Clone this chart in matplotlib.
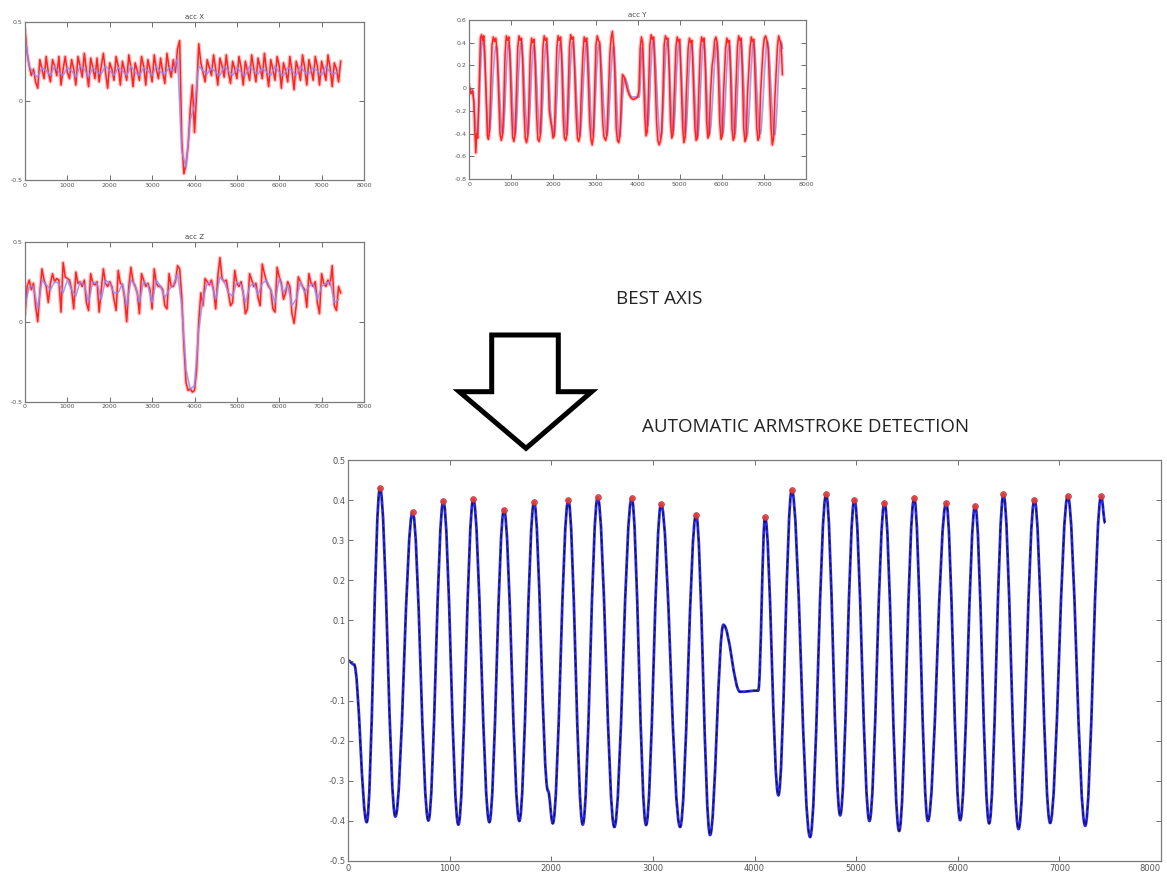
import numpy as np
import matplotlib
matplotlib.use("Agg")
import matplotlib.pyplot as plt
from matplotlib.path import Path
from matplotlib.patches import PathPatch, Polygon

# ---------------------------------------------------------------------------
# Filtered best-axis signal (acc Y): detected stroke peaks, troughs and
# a few extra knots (start, shoulder, pause between strokes, end)
# ---------------------------------------------------------------------------
peak_x = [315, 636, 938, 1233, 1535, 1831, 2168, 2457, 2792, 3081, 3425,
          4104, 4367, 4705, 4983, 5279, 5571, 5886, 6171, 6450, 6755, 7083, 7411]
peak_y = [0.430, 0.370, 0.397, 0.402, 0.376, 0.395, 0.400, 0.407, 0.405, 0.390, 0.364,
          0.357, 0.425, 0.414, 0.401, 0.393, 0.405, 0.393, 0.386, 0.414, 0.401, 0.410, 0.410]

trough_x = [184, 466, 791, 1086, 1391, 1686, 2015, 2310, 2621, 2933, 3268, 3563,
            4235, 4547, 4843, 5131, 5423, 5706, 6024, 6309, 6598, 6909, 7254]
trough_y = [-0.403, -0.389, -0.399, -0.409, -0.403, -0.400, -0.406, -0.409, -0.415, -0.410,
            -0.415, -0.435, -0.336, -0.440, -0.386, -0.400, -0.425, -0.400, -0.398, -0.406,
            -0.420, -0.405, -0.412]

knot_x = [0, 60, 1968, 3694, 3858, 4037, 7451]
knot_y = [0.000, -0.010, -0.325, 0.089, -0.078, -0.075, 0.343]

# ---------------------------------------------------------------------------
# Raw accelerometer traces (sampled every 50 samples) and filtered traces
# (sampled every 100 samples) for acc X and acc Z
# ---------------------------------------------------------------------------
acc_x_raw = [
    0.45, 0.30, 0.22, 0.16, 0.20, 0.12, 0.08, 0.26, 0.20, 0.14,
    0.28, 0.18, 0.12, 0.26, 0.22, 0.16, 0.28, 0.10, 0.20, 0.28,
    0.18, 0.14, 0.26, 0.20, 0.10, 0.28, 0.22, 0.15, 0.30, 0.19,
    0.09, 0.27, 0.21, 0.14, 0.27, 0.12, 0.22, 0.30, 0.18, 0.08,
    0.24, 0.20, 0.13, 0.28, 0.22, 0.10, 0.25, 0.19, 0.13, 0.29,
    0.21, 0.09, 0.24, 0.19, 0.13, 0.28, 0.22, 0.10, 0.26, 0.20,
    0.12, 0.29, 0.20, 0.14, 0.27, 0.18, 0.11, 0.30, 0.21, 0.15,
    0.26, 0.18, 0.33, 0.38, -0.25, -0.46, -0.40, -0.28, -0.05, 0.10,
    -0.20, 0.05, 0.36, 0.24, 0.18, 0.12, 0.26, 0.21, 0.16, 0.29,
    0.20, 0.10, 0.27, 0.22, 0.15, 0.29, 0.18, 0.11, 0.25, 0.20,
    0.14, 0.28, 0.21, 0.10, 0.25, 0.19, 0.13, 0.29, 0.20, 0.12,
    0.27, 0.21, 0.14, 0.30, 0.19, 0.09, 0.26, 0.20, 0.13, 0.28,
    0.22, 0.08, 0.24, 0.19, 0.12, 0.28, 0.19, 0.07, 0.25, 0.20,
    0.13, 0.29, 0.21, 0.10, 0.26, 0.20, 0.13, 0.28, 0.22, 0.10,
    0.25, 0.19, 0.13, 0.29, 0.21, 0.09, 0.24, 0.20, 0.12, 0.25,
]
acc_x_filt = [
    0.40, 0.22, 0.17, 0.15, 0.21, 0.19, 0.16, 0.22, 0.18, 0.16,
    0.21, 0.19, 0.15, 0.22, 0.20, 0.15, 0.21, 0.18, 0.17, 0.22,
    0.19, 0.16, 0.21, 0.19, 0.16, 0.22, 0.18, 0.16, 0.21, 0.19,
    0.16, 0.22, 0.18, 0.17, 0.21, 0.19, 0.27, -0.32, -0.42, -0.12,
    -0.03, 0.22, 0.19, 0.17, 0.21, 0.18, 0.16, 0.22, 0.19, 0.16,
    0.21, 0.18, 0.16, 0.22, 0.19, 0.17, 0.21, 0.18, 0.16, 0.22,
    0.18, 0.16, 0.21, 0.19, 0.16, 0.22, 0.18, 0.17, 0.21, 0.19,
    0.16, 0.22, 0.18, 0.17, 0.19,
]

acc_z_raw = [
    0.05, 0.22, 0.26, 0.20, 0.24, 0.10, 0.00, 0.18, 0.33, 0.26,
    0.22, 0.12, 0.24, 0.30, 0.25, 0.27, 0.26, 0.06, 0.37, 0.28,
    0.27, 0.26, 0.20, 0.08, 0.31, 0.24, 0.25, 0.22, 0.26, 0.12,
    0.07, 0.30, 0.24, 0.23, 0.25, 0.06, 0.20, 0.33, 0.24, 0.22,
    0.25, 0.22, 0.14, 0.07, 0.32, 0.24, 0.23, 0.15, 0.00, 0.22,
    0.34, 0.25, 0.22, 0.18, 0.05, 0.30, 0.26, 0.22, 0.24, 0.20,
    0.08, 0.33, 0.24, 0.22, 0.22, 0.20, 0.10, 0.08, 0.30, 0.22,
    0.22, 0.25, 0.35, 0.33, 0.15, -0.15, -0.38, -0.43, -0.42, -0.44,
    -0.43, -0.30, 0.00, 0.18, 0.10, 0.27, 0.25, 0.23, 0.26, 0.20,
    0.08, 0.28, 0.40, 0.27, 0.25, 0.26, 0.18, 0.10, 0.12, 0.32,
    0.24, 0.22, 0.25, 0.18, 0.05, 0.08, 0.30, 0.26, 0.22, 0.24,
    0.15, 0.10, 0.36, 0.30, 0.25, 0.22, 0.20, 0.08, 0.06, 0.34,
    0.28, 0.24, 0.14, 0.18, 0.25, 0.22, 0.05, -0.01, 0.10, 0.28,
    0.25, 0.22, 0.20, 0.09, 0.30, 0.24, 0.22, 0.25, 0.12, 0.05,
    0.30, 0.24, 0.22, 0.26, 0.23, 0.35, 0.10, 0.07, 0.22, 0.18,
]
acc_z_filt = [
    0.10, 0.22, 0.22, 0.08, 0.26, 0.23, 0.20, 0.25, 0.24, 0.18,
    0.26, 0.20, 0.16, 0.25, 0.23, 0.12, 0.25, 0.24, 0.14, 0.26,
    0.24, 0.18, 0.18, 0.24, 0.10, 0.26, 0.23, 0.12, 0.25, 0.23,
    0.12, 0.26, 0.22, 0.15, 0.20, 0.23, 0.30, 0.10, -0.30, -0.42,
    -0.40, -0.05, 0.14, 0.24, 0.24, 0.14, 0.28, 0.25, 0.18, 0.16,
    0.25, 0.23, 0.12, 0.22, 0.24, 0.17, 0.24, 0.26, 0.20, 0.12,
    0.27, 0.18, 0.23, 0.10, 0.14, 0.25, 0.18, 0.22, 0.24, 0.14,
    0.22, 0.24, 0.25, 0.12, 0.14,
]

# Raw acc Y trace (irregular sample positions)
acc_y_raw_x = [
    0, 40, 80, 110, 130, 155, 175, 200,
    240, 265, 290, 320, 345, 370,
    410, 430, 455, 480, 505,
    540, 570, 600, 630, 660,
    700, 730, 760, 790, 815,
    850, 880, 910, 940, 965,
    1000, 1030, 1060, 1090, 1115,
    1150, 1180, 1210, 1240, 1265,
    1300, 1330, 1360, 1390, 1415,
    1450, 1480, 1510, 1540, 1565,
    1600, 1630, 1660, 1690, 1715,
    1750, 1780, 1810, 1840, 1870,
    1900, 1930, 1960, 1990, 2020, 2045,
    2080, 2110, 2140, 2170, 2200,
    2230, 2260, 2290, 2320, 2345,
    2380, 2410, 2440, 2470, 2500,
    2540, 2570, 2600, 2630, 2655,
    2700, 2730, 2760, 2790, 2820,
    2860, 2890, 2920, 2950, 2975,
    3010, 3040, 3070, 3100, 3130,
    3170, 3200, 3240, 3270, 3300,
    3340, 3370, 3400, 3430, 3460,
    3490, 3520, 3550, 3580, 3610,
    3640, 3680, 3720, 3760, 3800, 3850, 3900, 3950, 4000, 4030,
    4060, 4090, 4120, 4140,
    4170, 4200, 4230, 4255,
    4290, 4320, 4350, 4380, 4410,
    4450, 4480, 4510, 4540, 4570, 4600,
    4630, 4660, 4690, 4720, 4750,
    4780, 4810, 4840, 4865,
    4910, 4940, 4970, 5000, 5030,
    5070, 5100, 5130, 5155,
    5200, 5230, 5260, 5290, 5320,
    5360, 5390, 5420, 5450,
    5490, 5520, 5550, 5580, 5610,
    5640, 5670, 5700, 5730,
    5770, 5800, 5830, 5860, 5890, 5920,
    5950, 5980, 6010, 6040,
    6090, 6120, 6150, 6180, 6210,
    6240, 6270, 6300, 6330,
    6370, 6400, 6430, 6460, 6490,
    6520, 6550, 6580, 6610,
    6670, 6700, 6730, 6760, 6790,
    6830, 6860, 6890, 6920,
    6980, 7010, 7040, 7070, 7100, 7130,
    7170, 7200, 7230, 7260,
    7320, 7350, 7380, 7410, 7440,
]
acc_y_raw_y = [
    0.02, -0.05, -0.02, -0.12, -0.38, -0.57, -0.40, -0.44,
    0.10, 0.44, 0.47, 0.42, 0.46, 0.30,
    -0.20, -0.42, -0.45, -0.38, -0.05,
    0.38, 0.45, 0.41, 0.44, 0.33,
    -0.10, -0.40, -0.46, -0.41, -0.20,
    0.30, 0.46, 0.42, 0.45, 0.28,
    -0.15, -0.43, -0.47, -0.40, -0.10,
    0.35, 0.46, 0.42, 0.44, 0.25,
    -0.20, -0.44, -0.48, -0.42, -0.15,
    0.32, 0.44, 0.40, 0.43, 0.20,
    -0.25, -0.45, -0.47, -0.41, -0.10,
    0.36, 0.46, 0.42, 0.44, 0.15,
    -0.20, -0.28, -0.35, -0.44, -0.42, -0.10,
    0.35, 0.46, 0.42, 0.45, 0.20,
    -0.25, -0.44, -0.46, -0.41, -0.10,
    0.36, 0.47, 0.43, 0.45, 0.18,
    -0.25, -0.44, -0.47, -0.42, -0.10,
    0.30, 0.45, 0.41, 0.44, 0.15,
    -0.30, -0.45, -0.50, -0.42, -0.05,
    0.38, 0.46, 0.42, 0.40, 0.10,
    -0.30, -0.43, -0.46, -0.41, -0.10,
    0.30, 0.44, 0.50, 0.38, 0.10,
    -0.35, -0.46, -0.48, -0.42, -0.10,
    0.12, 0.10, 0.04, -0.02, -0.06, -0.09, -0.10, -0.09, -0.08, -0.02,
    0.35, 0.45, 0.40, 0.10,
    -0.25, -0.42, -0.38, -0.05,
    0.38, 0.47, 0.43, 0.45, 0.15,
    -0.30, -0.46, -0.50, -0.47, -0.40, -0.05,
    0.38, 0.46, 0.43, 0.44, 0.15,
    -0.30, -0.44, -0.41, -0.10,
    0.36, 0.45, 0.41, 0.43, 0.10,
    -0.35, -0.48, -0.43, -0.05,
    0.35, 0.44, 0.40, 0.42, 0.10,
    -0.35, -0.46, -0.44, -0.05,
    0.35, 0.45, 0.41, 0.44, 0.15,
    -0.30, -0.44, -0.41, -0.05,
    0.20, 0.28, 0.42, 0.45, 0.40, 0.10,
    -0.30, -0.45, -0.42, -0.05,
    0.35, 0.44, 0.40, 0.42, 0.10,
    -0.35, -0.46, -0.43, -0.05,
    0.36, 0.46, 0.42, 0.44, 0.10,
    -0.35, -0.47, -0.44, -0.05,
    0.35, 0.45, 0.41, 0.43, 0.10,
    -0.35, -0.46, -0.43, -0.05,
    0.34, 0.44, 0.46, 0.42, 0.35, 0.05,
    -0.35, -0.50, -0.44, -0.10,
    0.36, 0.46, 0.42, 0.38, 0.12,
]

# Axis settings and labels
x_ticks = [0, 1000, 2000, 3000, 4000, 5000, 6000, 7000, 8000]
main_y_ticks = [-0.5, -0.4, -0.3, -0.2, -0.1, 0, 0.1, 0.2, 0.3, 0.4, 0.5]
acc_xz_y_ticks = [-0.5, 0, 0.5]
acc_y_y_ticks = [-0.8, -0.6, -0.4, -0.2, 0, 0.2, 0.4, 0.6]
titles = ["acc X", "acc Y", "acc Z"]

RAW_RED = "#ff1a1a"
FILT_BLUE = "#8c8cff"
MAIN_BLUE = "#2a2ae6"


def smooth_path(xs, ys, a=0.37):
    """Cubic Bezier path through the knots with flat tangents at each knot."""
    verts = [(xs[0], ys[0])]
    codes = [Path.MOVETO]
    for x0, y0, x1, y1 in zip(xs[:-1], ys[:-1], xs[1:], ys[1:]):
        d = x1 - x0
        verts += [(x0 + a * d, y0), (x1 - a * d, y1), (x1, y1)]
        codes += [Path.CURVE4] * 3
    return Path(verts, codes)


def fmt(v):
    return "0" if abs(v) < 1e-9 else f"{v:g}"


def style_axes(ax, yticks, ylim, fs):
    ax.set_xlim(0, 8000)
    ax.set_ylim(*ylim)
    ax.set_xticks(x_ticks)
    ax.set_xticklabels([fmt(t) for t in x_ticks])
    ax.set_yticks(yticks)
    ax.set_yticklabels([fmt(t) for t in yticks])
    ax.tick_params(direction="in", top=True, right=True, length=3.5, width=0.6,
                   labelsize=fs, colors="#555555", pad=2)
    for s in ax.spines.values():
        s.set_color("#7a7a7a")
        s.set_linewidth(0.9)


# knots of the filtered signal, in time order
all_x = np.concatenate([peak_x, trough_x, knot_x])
all_y = np.concatenate([peak_y, trough_y, knot_y])
order = np.argsort(all_x)
kx, ky = all_x[order], all_y[order]

W, H = 1167, 876
fig = plt.figure(figsize=(W / 100, H / 100), dpi=100)
fig.patch.set_facecolor("white")


def rect(left, top, right, bottom):
    return [left / W, 1 - bottom / H, (right - left) / W, (bottom - top) / H]


def draw_raw(ax, x, y):
    ax.plot(x, y, color=RAW_RED, lw=2.8, alpha=0.25, solid_joinstyle="round")
    ax.plot(x, y, color=RAW_RED, lw=1.1, alpha=0.95)


# acc X
ax_x = fig.add_axes(rect(25, 21.7, 364, 180))
xr = np.arange(len(acc_x_raw)) * 50
xf = np.arange(len(acc_x_filt)) * 100
draw_raw(ax_x, xr, acc_x_raw)
ax_x.plot(xf, acc_x_filt, color=FILT_BLUE, lw=1.1, alpha=0.85)
style_axes(ax_x, acc_xz_y_ticks, (-0.5, 0.5), 4.5)
ax_x.set_title(titles[0], fontsize=5, color="#444444", pad=2)

# acc Y
ax_y = fig.add_axes(rect(469.3, 20, 806, 179))
draw_raw(ax_y, acc_y_raw_x, acc_y_raw_y)
ax_y.add_patch(PathPatch(smooth_path(kx, ky), fill=False, edgecolor=FILT_BLUE,
                         lw=1.2, alpha=0.8))
style_axes(ax_y, acc_y_y_ticks, (-0.8, 0.6), 4.5)
ax_y.set_title(titles[1], fontsize=5, color="#444444", pad=2)

# acc Z
ax_z = fig.add_axes(rect(25, 241.7, 364, 401.7))
zr = np.arange(len(acc_z_raw)) * 50
zf = np.arange(len(acc_z_filt)) * 100
draw_raw(ax_z, zr, acc_z_raw)
ax_z.plot(zf, acc_z_filt, color=FILT_BLUE, lw=1.1, alpha=0.85)
style_axes(ax_z, acc_xz_y_ticks, (-0.5, 0.5), 4.5)
ax_z.set_title(titles[2], fontsize=5, color="#444444", pad=2)

# Best axis with detected arm strokes
ax_m = fig.add_axes(rect(348, 460, 1161, 861))
path = smooth_path(kx, ky)
ax_m.add_patch(PathPatch(path, fill=False, edgecolor=MAIN_BLUE, lw=2.0))
ax_m.add_patch(PathPatch(path, fill=False, edgecolor="#10105a", lw=0.9,
                         linestyle=(0, (3.5, 2.5))))
ax_m.plot(peak_x, peak_y, "o", color="#e8403c", ms=4.2, mec="#c82828", mew=0.5,
          alpha=0.9, zorder=5)
style_axes(ax_m, main_y_ticks, (-0.5, 0.5), 6)
ax_m.get_xticklabels()[-1].set_horizontalalignment("right")

# Annotations
font = ["Open Sans", "DejaVu Sans"]
fig.text(659 / W, 1 - 299 / H, "BEST AXIS", ha="center", va="center",
         fontsize=13.5, color="#222222", family=font)
fig.text(806 / W, 1 - 427 / H, "AUTOMATIC ARMSTROKE DETECTION", ha="center",
         va="center", fontsize=13.5, color="#222222", family=font)

arrow_px = [(491.7, 335), (558.3, 335), (558.3, 391.7), (591.7, 391.7),
            (526, 448.3), (459.3, 391.7), (491.7, 391.7)]
arrow = Polygon([(x / W, 1 - y / H) for x, y in arrow_px], closed=True,
                fill=False, edgecolor="black", lw=3.6, joinstyle="miter",
                transform=fig.transFigure)
fig.add_artist(arrow)

fig.savefig("out.png", dpi=100, facecolor="white")
